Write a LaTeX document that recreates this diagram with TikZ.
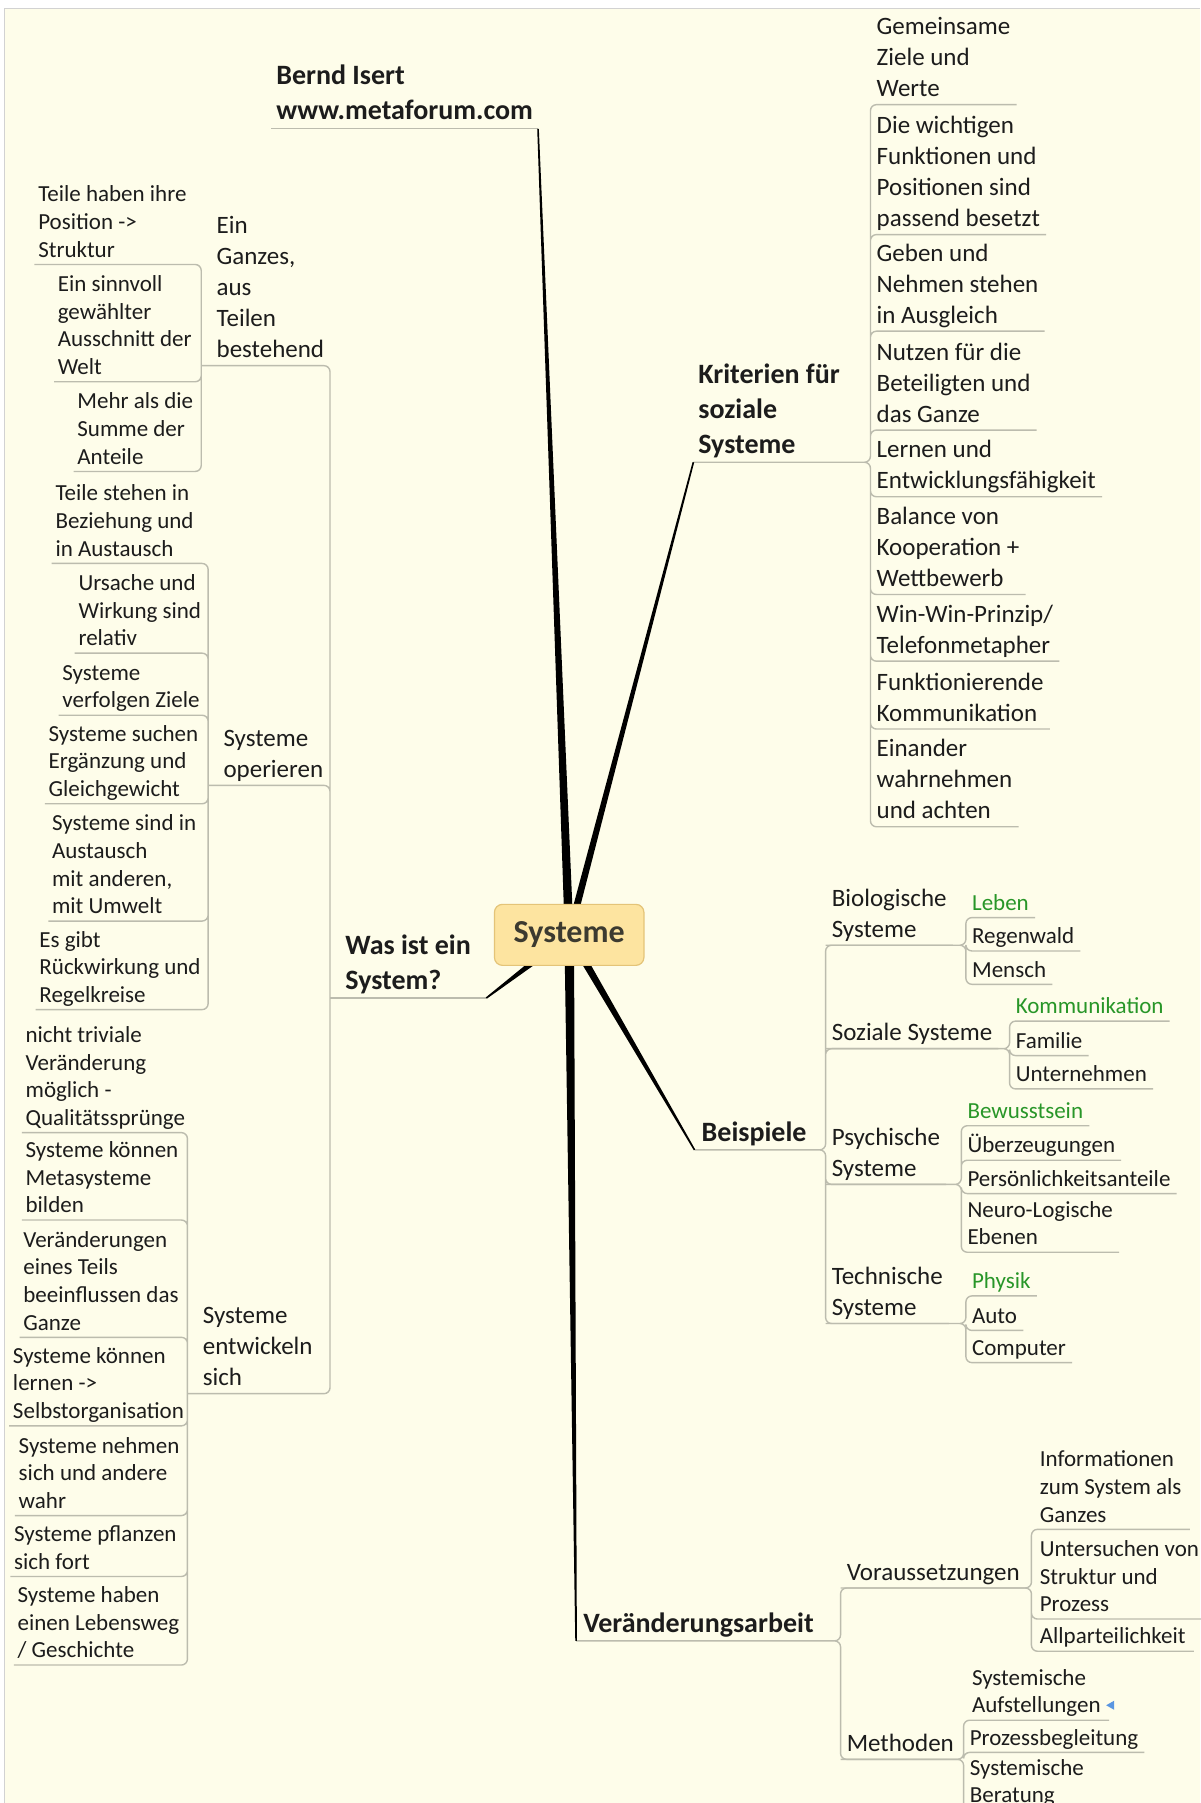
\documentclass[tikz,border=0pt]{standalone}
\usepackage{fontspec}
\setmainfont{Carlito}
\usetikzlibrary{calc}

\definecolor{paper}{RGB}{254,253,234}
\definecolor{ink}{RGB}{28,28,28}
\definecolor{linkgray}{RGB}{188,188,174}
\definecolor{leafgreen}{RGB}{40,150,40}
\definecolor{hubfill}{RGB}{253,228,160}
\definecolor{hubdraw}{RGB}{228,196,120}
\definecolor{hubtext}{RGB}{60,58,48}
\definecolor{iconblue}{RGB}{90,150,225}

% space between last baseline and the underline
\newcommand\ulgap{\rule[-0.3em]{0pt}{0.3em}}
% tapered main branch: from, to, half width at the start
\newcommand\limb[3]{\fill[black] ($(#1)!#3!90:(#2)$) -- ($(#2)!0.4pt!-90:(#1)$)
  -- ($(#2)!0.4pt!90:(#1)$) -- ($(#1)!#3!-90:(#2)$) -- cycle;}

\tikzset{
  topic/.style={anchor=south west, align=left, inner ysep=0pt, text=ink, execute at end node=\ulgap},
  mainbr/.style={topic, inner xsep=2.3pt, font=\fontsize{14}{17.5}\selectfont\bfseries},
  lsub/.style={topic, inner xsep=7.5pt, font=\fontsize{12.5}{15.5}\selectfont},
  rsub/.style={topic, inner xsep=2.9pt, font=\fontsize{12.5}{15.5}\selectfont},
  lleaf/.style={topic, inner xsep=1.7pt, font=\fontsize{11.5}{13.8}\selectfont},
  rleaf/.style={topic, inner xsep=2.9pt, font=\fontsize{11.5}{13.8}\selectfont},
  keyword/.style={text=leafgreen},
  link/.style={draw=linkgray, line width=0.7pt, rounded corners=3pt},
  hub/.style={anchor=center, rounded corners=4pt, fill=hubfill, draw=hubdraw, line width=0.6pt,
    minimum width=74.75pt, minimum height=30.5pt, font=\fontsize{16}{19}\selectfont\bfseries, text=hubtext}
}

\begin{document}
\begin{tikzpicture}[x=0.575pt, y=-0.575pt]
      \useasboundingbox (0,0) rectangle (1044,1568);
      \fill[white] (0,0) rectangle (1044,1568);
      \fill[paper] (4,7) rectangle (1044,1568);
      \draw[gray!35] (4,1568) -- (4,7) -- (1044,7);

      % main branches
      \node[mainbr] (bernd) at (236,112) {Bernd Isert\\www.metaforum.com};
      \node[mainbr] (krit) at (603,402) {Kriterien für\\soziale\\Systeme};
      \node[mainbr, inner xsep=7.5pt] (was) at (287,868) {Was ist ein\\System?};
      \node[mainbr, inner xsep=3.4pt] (beisp) at (604,1000) {Beispiele};
      \node[mainbr, inner xsep=3.4pt] (veraend) at (501,1427) {Veränderungsarbeit};

      % Was ist ein System?
      \node[lsub] (ganz) at (175,318) {Ein\\Ganzes,\\aus\\Teilen\\bestehend};
      \node[lsub] (oper) at (181,683) {Systeme\\operieren};
      \node[lsub] (entw) at (163,1212) {Systeme\\entwickeln\\sich};

      \node[lleaf] (t1) at (30,230) {Teile haben ihre\\Position ->\\Struktur};
      \node[lleaf] (t2) at (47,332) {Ein sinnvoll\\gewählter\\Ausschnitt der\\Welt};
      \node[lleaf] (t3) at (64,410) {Mehr als die\\Summe der\\Anteile};

      \node[lleaf] (o1) at (45,490) {Teile stehen in\\Beziehung und\\in Austausch};
      \node[lleaf] (o2) at (65,568) {Ursache und\\Wirkung sind\\relativ};
      \node[lleaf] (o3) at (51,622) {Systeme\\verfolgen Ziele};
      \node[lleaf] (o4) at (39,699) {Systeme suchen\\Ergänzung und\\Gleichgewicht};
      \node[lleaf] (o5) at (42,801) {Systeme sind in\\Austausch\\mit anderen,\\mit Umwelt};
      \node[lleaf] (o6) at (31,878) {Es gibt\\Rückwirkung und\\Regelkreise};

      \node[lleaf] (e1) at (19,985) {nicht triviale\\Veränderung\\möglich -\\Qualitätssprünge};
      \node[lleaf] (e2) at (19,1061) {Systeme können\\Metasysteme\\bilden};
      \node[lleaf] (e3) at (17,1163) {Veränderungen\\eines Teils\\beeinflussen das\\Ganze};
      \node[lleaf] (e4) at (8,1240) {Systeme können\\lernen ->\\Selbstorganisation};
      \node[lleaf] (e5) at (13,1318) {Systeme nehmen\\sich und andere\\wahr};
      \node[lleaf] (e6) at (9,1371) {Systeme pflanzen\\sich fort};
      \node[lleaf] (e7) at (12,1448) {Systeme haben\\einen Lebensweg\\/ Geschichte};

      % Kriterien
      \node[rsub] (k1) at (757,91) {Gemeinsame\\Ziele und\\Werte};
      \node[rsub] (k2) at (757,204) {Die wichtigen\\Funktionen und\\Positionen sind\\passend besetzt};
      \node[rsub] (k3) at (757,288) {Geben und\\Nehmen stehen\\in Ausgleich};
      \node[rsub] (k4) at (757,374) {Nutzen für die\\Beteiligten und\\das Ganze};
      \node[rsub] (k5) at (757,432) {Lernen und\\Entwicklungsfähigkeit};
      \node[rsub] (k6) at (757,517) {Balance von\\Kooperation +\\Wettbewerb};
      \node[rsub] (k7) at (757,575) {Win-Win-Prinzip/\\Telefonmetapher};
      \node[rsub] (k8) at (757,634) {Funktionierende\\Kommunikation};
      \node[rsub] (k9) at (757,719) {Einander\\wahrnehmen\\und achten};

      % Beispiele
      \node[rsub] (bio) at (718,822) {Biologische\\Systeme};
      \node[rsub] (soz) at (718,912) {Soziale Systeme};
      \node[rsub] (psy) at (718,1030) {Psychische\\Systeme};
      \node[rsub] (tech) at (718,1151) {Technische\\Systeme};

      \node[rleaf, keyword] (leben) at (840,798) {Leben};
      \node[rleaf] (regen) at (840,827) {Regenwald};
      \node[rleaf] (mensch) at (840,856) {Mensch};

      \node[rleaf, keyword] (komm) at (878,888) {Kommunikation};
      \node[rleaf] (fam) at (878,918) {Familie};
      \node[rleaf] (unt) at (878,947) {Unternehmen};

      \node[rleaf, keyword] (bew) at (836,979) {Bewusstsein};
      \node[rleaf] (ueber) at (836,1009) {Überzeugungen};
      \node[rleaf] (pers) at (836,1038) {Persönlichkeitsanteile};
      \node[rleaf] (neuro) at (836,1089) {Neuro-Logische\\Ebenen};

      \node[rleaf, keyword] (phys) at (840,1127) {Physik};
      \node[rleaf] (auto) at (840,1157) {Auto};
      \node[rleaf] (comp) at (840,1185) {Computer};

      % Veraenderungsarbeit
      \node[rsub] (vor) at (731,1381) {Voraussetzungen};
      \node[rsub] (meth) at (731,1530) {Methoden};

      \node[rleaf, inner xsep=4pt] (inf) at (897,1330) {Informationen\\zum System als\\Ganzes};
      \node[rleaf, inner xsep=4pt] (unters) at (897,1408) {Untersuchen von\\Struktur und\\Prozess};
      \node[rleaf, inner xsep=4pt] (allp) at (897,1436) {Allparteilichkeit};

      \node[rleaf, inner xsep=4pt] (aufst) at (838,1496) {Systemische\\Aufstellungen\hspace{12pt}};
      \node[rleaf] (proz) at (838,1524) {Prozessbegleitung};
      \node[rleaf] (ber) at (838,1574) {Systemische\\Beratung};
      \fill[iconblue] (962,1483) -- (969,1479) -- (969,1487) -- cycle;

      % connectors, left side
      \draw[link] (bernd.south west) -- (bernd.south east);
      \draw[link] (was.south west) -- (was.south east);
      \draw[link] (ganz.south west) -| (was.south west) (oper.south west) -| (was.south west)
        (entw.south west) -| (was.south west);
      \draw[link] (t1.south west) -| (ganz.south west) (t2.south west) -| (ganz.south west)
        (t3.south west) -| (ganz.south west);
      \draw[link] (o1.south west) -| (oper.south west) (o2.south west) -| (oper.south west)
        (o3.south west) -| (oper.south west) (o4.south west) -| (oper.south west)
        (o5.south west) -| (oper.south west) (o6.south west) -| (oper.south west);
      \draw[link] (e1.south west) -| (entw.south west) (e2.south west) -| (entw.south west)
        (e3.south west) -| (entw.south west) (e4.south west) -| (entw.south west)
        (e5.south west) -| (entw.south west) (e6.south west) -| (entw.south west)
        (e7.south west) -| (entw.south west);

      % connectors, right side
      \draw[link] (krit.south west) -| (k1.south west) -- (k1.south east)
        (krit.south west) -| (k2.south west) -- (k2.south east)
        (krit.south west) -| (k3.south west) -- (k3.south east)
        (krit.south west) -| (k4.south west) -- (k4.south east)
        (krit.south west) -| (k5.south west) -- (k5.south east)
        (krit.south west) -| (k6.south west) -- (k6.south east)
        (krit.south west) -| (k7.south west) -- (k7.south east)
        (krit.south west) -| (k8.south west) -- (k8.south east)
        (krit.south west) -| (k9.south west) -- (k9.south east);
      \draw[link] (beisp.south west) -| (bio.south west) -- (bio.south east)
        (beisp.south west) -| (soz.south west) -- (soz.south east)
        (beisp.south west) -| (psy.south west) -- (psy.south east)
        (beisp.south west) -| (tech.south west) -- (tech.south east);
      \draw[link] (bio.south west) -| (leben.south west) -- (leben.south east)
        (bio.south west) -| (regen.south west) -- (regen.south east)
        (bio.south west) -| (mensch.south west) -- (mensch.south east);
      \draw[link] (soz.south west) -| (komm.south west) -- (komm.south east)
        (soz.south west) -| (fam.south west) -- (fam.south east)
        (soz.south west) -| (unt.south west) -- (unt.south east);
      \draw[link] (psy.south west) -| (bew.south west) -- (bew.south east)
        (psy.south west) -| (ueber.south west) -- (ueber.south east)
        (psy.south west) -| (pers.south west) -- (pers.south east)
        (psy.south west) -| (neuro.south west) -- (neuro.south east);
      \draw[link] (tech.south west) -| (phys.south west) -- (phys.south east)
        (tech.south west) -| (auto.south west) -- (auto.south east)
        (tech.south west) -| (comp.south west) -- (comp.south east);
      \draw[link] (veraend.south west) -| (vor.south west) -- (vor.south east)
        (veraend.south west) -| (meth.south west) -- (meth.south east);
      \draw[link] (vor.south west) -| (inf.south west) -- (inf.south east)
        (vor.south west) -| (unters.south west) -- (unters.south east)
        (vor.south west) -| (allp.south west) -- (allp.south east);
      \draw[link] (meth.south west) -| (aufst.south west) -- (aufst.south east)
        (meth.south west) -| (proz.south west) -- (proz.south east)
        (meth.south west) -| (ber.south west) -- (ber.south east);

      % thick branches into the centre
      \coordinate (hubc) at (495,813);
      \limb{hubc}{bernd.south east}{2.2pt}
      \limb{hubc}{krit.south west}{1.8pt}
      \limb{hubc}{was.south east}{2.1pt}
      \limb{hubc}{beisp.south west}{2pt}
      \limb{hubc}{veraend.south west}{2.4pt}

      \node[hub] (sys) at (hubc) {Systeme};
    \end{tikzpicture}
\end{document}
